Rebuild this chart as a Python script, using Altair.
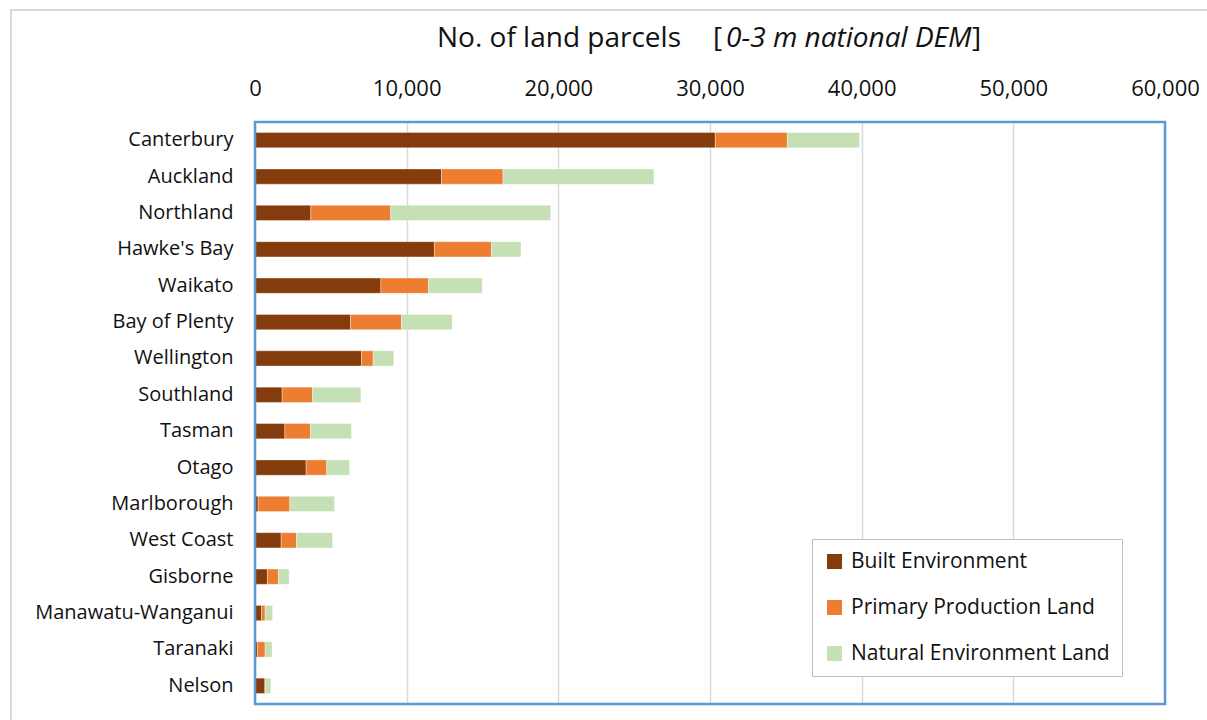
import altair as alt
import pandas as pd

# Regions, top to bottom
regions = [
    "Canterbury", "Auckland", "Northland", "Hawke's Bay", "Waikato",
    "Bay of Plenty", "Wellington", "Southland", "Tasman", "Otago",
    "Marlborough", "West Coast", "Gisborne", "Manawatu-Wanganui",
    "Taranaki", "Nelson",
]

# Number of land parcels per land-use class
built = [30350, 12300, 3680, 11830, 8300, 6300, 7020, 1790, 1970, 3370,
         210, 1725, 820, 430, 165, 650]
primary = [4750, 4050, 5270, 3760, 3140, 3360, 770, 2000, 1690, 1360,
           2085, 1010, 725, 240, 505, 45]
natural = [4750, 9950, 10550, 1950, 3540, 3340, 1360, 3190, 2700, 1500,
           2945, 2370, 705, 485, 460, 350]

series = ["Built Environment", "Primary Production Land", "Natural Environment Land"]
series_colors = ["#843C0C", "#ED7D31", "#C5E0B4"]
x_ticks = [0, 10000, 20000, 30000, 40000, 50000, 60000]

rows = []
for i, region in enumerate(regions):
    for k, (name, vals) in enumerate(zip(series, [built, primary, natural])):
        rows.append({"region": region, "category": name, "parcels": vals[i], "stack": k})
df = pd.DataFrame(rows)

FONT = "Open Sans"
INK = "#111111"
W, H = 910, 582

bars = alt.Chart(df).mark_bar(stroke="white", strokeWidth=0.6, strokeOpacity=0.6).encode(
    x=alt.X(
        "parcels:Q",
        stack="zero",
        scale=alt.Scale(domain=[0, 60000], nice=False),
        axis=alt.Axis(
            orient="top", values=x_ticks, format=",d", title=None,
            grid=True, gridColor="#d9d9d9", gridWidth=1.5,
            domain=False, ticks=False, labelFontSize=22, labelFont=FONT,
            labelColor=INK, labelPadding=22, labelFlush=False, labelBound=False,
            labelOverlap=False,
        ),
    ),
    y=alt.Y(
        "region:N",
        sort=regions,
        scale=alt.Scale(paddingInner=0.58, paddingOuter=0.29),
        axis=alt.Axis(
            title=None, domain=False, ticks=False, labelFontSize=20,
            labelFont=FONT, labelColor=INK, labelPadding=22, labelLimit=0,
        ),
    ),
    color=alt.Color(
        "category:N",
        scale=alt.Scale(domain=series, range=series_colors),
        legend=alt.Legend(
            title=None, orient="none", legendX=557, legendY=417,
            direction="vertical", symbolType="square", symbolSize=225,
            symbolStrokeWidth=0, labelFontSize=21, labelFont=FONT,
            labelColor=INK, rowPadding=24, labelOffset=6, padding=12,
            labelLimit=0, fillColor="white", strokeColor="#bfbfbf",
        ),
    ),
    order=alt.Order("stack:Q"),
)

one = alt.Data(values=[{}])

# Outer chart frame
frame = alt.Chart(one).mark_rect(fill=None, stroke="#d9d9d9", strokeWidth=2).encode(
    x=alt.value(-244), x2=alt.value(960), y=alt.value(-112), y2=alt.value(605)
)

# Plot-area border
plot_border = alt.Chart(one).mark_rect(fill=None, stroke="#5B9BD5", strokeWidth=2.5).encode(
    x=alt.value(0), x2=alt.value(W), y=alt.value(0), y2=alt.value(H)
)

# Title, with the DEM note in italics
title_main = alt.Chart(one).mark_text(
    text="No. of land parcels", font=FONT, fontSize=28, color=INK,
    align="left", baseline="alphabetic",
).encode(x=alt.value(182), y=alt.value(-75))

title_open = alt.Chart(one).mark_text(
    text="[", font=FONT, fontSize=28, color=INK, align="left", baseline="alphabetic",
).encode(x=alt.value(458), y=alt.value(-75))

title_note = alt.Chart(one).mark_text(
    text="0-3 m national DEM", font=FONT, fontSize=28, fontStyle="italic",
    color=INK, align="left", baseline="alphabetic",
).encode(x=alt.value(471), y=alt.value(-75))

title_close = alt.Chart(one).mark_text(
    text="]", font=FONT, fontSize=28, color=INK, align="left", baseline="alphabetic",
).encode(x=alt.value(717), y=alt.value(-75))

chart = alt.layer(
    frame, bars, plot_border, title_main, title_open, title_note, title_close
).properties(
    width=W,
    height=H,
    padding={"left": 255, "top": 122, "right": 42, "bottom": 16},
    autosize=alt.AutoSizeParams(type="none"),
).configure_view(
    stroke=None,
).configure(background="white")

chart.save("out.html", embed_options={"renderer": "svg", "actions": False})
